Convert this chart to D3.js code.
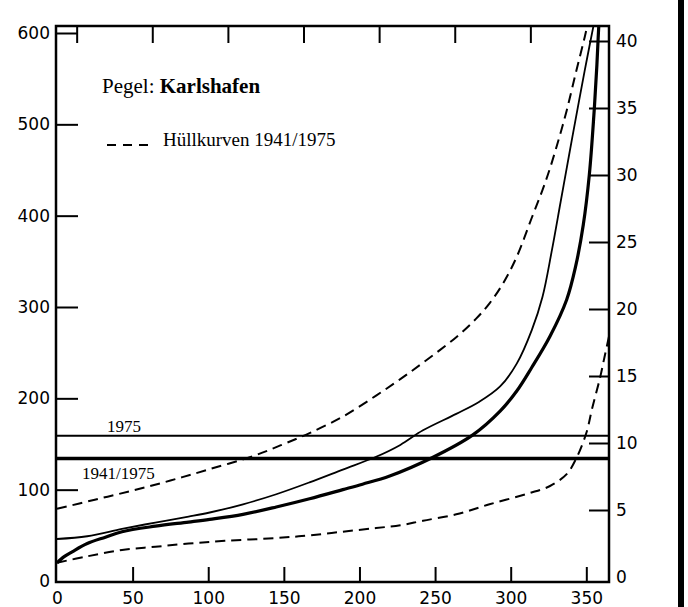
<!DOCTYPE html>
<html><head><meta charset="utf-8">
<script src="https://cdn.jsdelivr.net/npm/d3@7"></script>
<style>body{margin:0;background:#fff}</style>
</head><body><svg id="c" width="688" height="607"></svg>
<script>
// ---- data ----
const leftTicks = [0,100,200,300,400,500,600];
const rightTicks = [0,5,10,15,20,25,30,35,40];
const bottomTicks = [0,50,100,150,200,250,300,350];
const topTicks = [13,63,113,163,213,263,313];

// upper envelope (dashed)
const upperDays = [0,25,50,75,100,130,150,167,189,211,227,242,264,277,286,295,304,314,321,326,332,337,343,349,353];
const upperQ    = [79,89,99,110,122,137,150,162,180,203,221,239,267,287,304,326,355,398,428,452,485,515,556,596,625];
// lower envelope (dashed)
const lowerDays = [0,20,43,65,87,111,145,167,189,211,227,242,264,286,312,326,337,343,350,354,359,362,365];
const lowerQ    = [20,27,34,37.5,41,44,47,50,54,58,61,66,73,84,96,104,117,133,162,190,222,245,268];
// 1975 (thin solid)
const y1975Days = [0,20,43,65,87,101,123,145,167,189,211,227,242,264,279,293,304,314,321,327,333,339,345,350,355];
const y1975Q    = [46,49,57,64,70.5,75,84,95,108,122,136,149,165,183,196,213,238,275,311,360,415,470,524,568,610];
// 1941/1975 (thick solid)
const meanDays = [0,5,10,20,32,43,65,87,101,123,145,167,189,202,220,248,275,293,304,314,326,337,343,348,352,355,357,358,359];
const meanQ    = [20,27,32,41,48,54,60,64.5,67.5,73,81,90,100,106,115,135,160,186,208,234,268,308,345,390,445,510,565,600,630];

const refValues = [159,134];
const refLabels = ["1975","1941/1975"];
const titleParts = ["Pegel: ","Karlshafen"];
const legendLabel = "Hüllkurven 1941/1975";

// ---- layout ----
const svg = d3.select("#c");
const fL=56, fR=609, fT=26, fB=582;
const x = d3.scaleLinear().domain([0,365]).range([57,609]);
const y = d3.scaleLinear().domain([0,600]).range([581,33]);
const yR = d3.scaleLinear().domain([0,40]).range([577,41]);

svg.append("defs").append("clipPath").attr("id","clip")
  .append("rect").attr("x",fL).attr("y",fT).attr("width",fR-fL).attr("height",fB-fT);

const tickFont = "'DejaVu Sans', sans-serif";

// axes
const gL = svg.append("g").attr("transform",`translate(${fL},0)`)
  .call(d3.axisLeft(y).tickValues(leftTicks).tickSizeInner(-22).tickSizeOuter(0).tickPadding(6));
const gB = svg.append("g").attr("transform",`translate(0,${fB})`)
  .call(d3.axisBottom(x).tickValues(bottomTicks).tickSizeInner(-15).tickSizeOuter(0).tickPadding(10));
const gR = svg.append("g").attr("transform",`translate(${fR},0)`)
  .call(d3.axisRight(yR).tickValues(rightTicks).tickSizeInner(-20).tickSizeOuter(0).tickPadding(7));
const gT = svg.append("g").attr("transform",`translate(0,${fT})`)
  .call(d3.axisTop(x).tickValues(topTicks).tickSizeInner(-17).tickSizeOuter(0).tickFormat(""));
[gL,gB,gR,gT].forEach(g=>{
  g.select(".domain").remove();
  g.selectAll(".tick line").attr("stroke","#000").attr("stroke-width",2);
  g.selectAll(".tick text").attr("fill","#000").style("font-family",tickFont).style("font-size","17px");
});
gR.selectAll(".tick").filter(d=>d===0).select("line").remove();
gL.selectAll(".tick").filter(d=>d===0).select("line").remove();
gB.selectAll(".tick").filter(d=>d===0).select("line").remove();

// frame
svg.append("rect").attr("x",fL).attr("y",fT).attr("width",fR-fL).attr("height",fB-fT)
  .attr("fill","none").attr("stroke","#000").attr("stroke-width",2.5);

// reference lines
const refW = [2,3.5];
svg.append("g").selectAll("line").data(refValues).join("line")
  .attr("x1",x(0)).attr("x2",x(365)).attr("y1",d=>y(d)).attr("y2",d=>y(d))
  .attr("stroke","#000").attr("stroke-width",(d,i)=>refW[i]);

// curves
const line = d3.line().x(d=>x(d[0])).y(d=>y(d[1])).curve(d3.curveCatmullRom.alpha(0.5));
const gC = svg.append("g").attr("clip-path","url(#clip)");
const series = [
  {d:upperDays,q:upperQ,w:2,dash:"10,6"},
  {d:lowerDays,q:lowerQ,w:2,dash:"10,6"},
  {d:y1975Days,q:y1975Q,w:1.8,dash:null},
  {d:meanDays,q:meanQ,w:3.2,dash:null}
];
series.forEach(s=>{
  gC.append("path").datum(s.d.map((v,i)=>[v,s.q[i]]))
    .attr("d",line).attr("fill","none").attr("stroke","#000")
    .attr("stroke-width",s.w).attr("stroke-dasharray",s.dash);
});

// title
const serif = "'Liberation Serif', 'Times New Roman', serif";
const t = svg.append("text").attr("x",102).attr("y",93)
  .style("font-family",serif).style("font-size","21px").attr("fill","#000");
t.append("tspan").text(titleParts[0]);
t.append("tspan").attr("font-weight","bold").text(titleParts[1]);

// legend
svg.append("line").attr("x1",107).attr("x2",154).attr("y1",145).attr("y2",145)
  .attr("stroke","#000").attr("stroke-width",2).attr("stroke-dasharray","9,7");
svg.append("text").attr("x",163).attr("y",146)
  .style("font-family",serif).style("font-size","19px").attr("fill","#000").text(legendLabel);

// ref labels
svg.append("text").attr("x",107).attr("y",432).style("font-family",serif).style("font-size","17px").text(refLabels[0]);
svg.append("text").attr("x",82).attr("y",479).style("font-family",serif).style("font-size","17px").text(refLabels[1]);

// scan border at right
svg.append("line").attr("x1",681).attr("x2",681).attr("y1",0).attr("y2",607)
  .attr("stroke","#000").attr("stroke-width",6);
</script></body></html>
